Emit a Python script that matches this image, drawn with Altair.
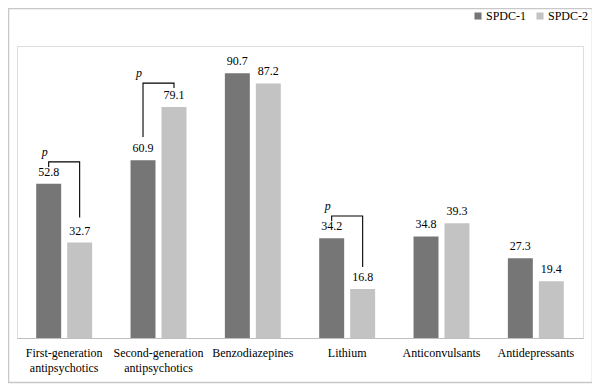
import altair as alt
import pandas as pd

categories = ["First-generation|antipsychotics", "Second-generation|antipsychotics",
              "Benzodiazepines", "Lithium", "Anticonvulsants", "Antidepressants"]
series = ["SPDC-1", "SPDC-2"]
spdc1 = [52.8, 60.9, 90.7, 34.2, 34.8, 27.3]
spdc2 = [32.7, 79.1, 87.2, 16.8, 39.3, 19.4]

# significance brackets: category, bracket top, end of leg under SPDC-1, end of leg under SPDC-2
br_cat = ["First-generation|antipsychotics", "Second-generation|antipsychotics", "Lithium"]
br_top = [60.3, 87.3, 41.8]
br_end1 = [58.6, 68.8, 40.0]
br_end2 = [41.3, 85.6, 24.3]

rows = []
for c, a, b in zip(categories, spdc1, spdc2):
    rows.append({"cat": c, "series": "SPDC-1", "value": a, "label": f"{a:.1f}"})
    rows.append({"cat": c, "series": "SPDC-2", "value": b, "label": f"{b:.1f}"})
df = pd.DataFrame(rows)

brow = []
for i, (c, t, e1, e2) in enumerate(zip(br_cat, br_top, br_end1, br_end2)):
    brow += [
        {"cat": c, "series": "SPDC-1", "y": e1, "o": 0, "id": i},
        {"cat": c, "series": "SPDC-1", "y": t, "o": 1, "id": i},
        {"cat": c, "series": "SPDC-2", "y": t, "o": 2, "id": i},
        {"cat": c, "series": "SPDC-2", "y": e2, "o": 3, "id": i},
    ]
bdf = pd.DataFrame(brow)
pdf = pd.DataFrame({"cat": br_cat, "series": ["SPDC-1"] * 3, "y": br_top, "t": ["p"] * 3})

FONT = "Liberation Serif, Times New Roman, serif"
xsc = alt.Scale(domain=categories, paddingInner=0.407, paddingOuter=0.2035)
osc = alt.Scale(domain=series, paddingInner=0.194, paddingOuter=0)
ysc = alt.Scale(domain=[0, 100], nice=False)
x = alt.X("cat:N", scale=xsc, sort=categories, title=None,
          axis=alt.Axis(labelExpr="split(datum.value, '|')", labelAngle=0, ticks=False,
                        domainColor="#bfbfbf", labelFont=FONT, labelFontSize=12,
                        labelColor="#000000", labelPadding=9, labelLineHeight=15))
xo = alt.XOffset("series:N", scale=osc, sort=series)
y = alt.Y("value:Q", scale=ysc, axis=None)

bars = alt.Chart(df).mark_bar().encode(
    x=x, xOffset=xo, y=y,
    color=alt.Color("series:N", scale=alt.Scale(domain=series, range=["#767676", "#c3c3c3"]),
                    legend=alt.Legend(title=None, orient="none", legendX=455, legendY=-36,
                                      direction="horizontal", symbolType="square", symbolSize=50,
                                      labelFont=FONT, labelFontSize=12, labelColor="#000000",
                                      columnPadding=7, labelOffset=2, symbolStrokeWidth=0)),
)
labels = alt.Chart(df).mark_text(baseline="bottom", dy=-5, font=FONT, fontSize=12, color="#000000").encode(
    x=x, xOffset=xo, y=y, text="label:N")
brackets = alt.Chart(bdf).mark_line(color="#000000", strokeWidth=1.1).encode(
    x=x, xOffset=xo, y=alt.Y("y:Q", scale=ysc, axis=None), order="o:Q", detail="id:N")
ps = alt.Chart(pdf).mark_text(font=FONT, fontSize=12, fontStyle="italic", color="#000000", dx=-4, dy=-10).encode(
    x=x, xOffset=xo, y=alt.Y("y:Q", scale=ysc, axis=None), text="t:N")
border = alt.Chart(pd.DataFrame({"a": [0]})).mark_rect(fill=None, stroke="#c8c8c8", strokeWidth=1.5).encode(
    x=alt.value(-8.5), x2=alt.value(575.5), y=alt.value(-37.5), y2=alt.value(336.5))

chart = alt.layer(bars, labels, brackets, ps, border).properties(
    width=566, height=292,
    autosize=alt.AutoSizeParams(type="none"),
    padding={"left": 9, "top": 38, "right": 9, "bottom": 46},
).configure_view(stroke=None).configure(background="#ffffff")

chart.save("out.html", embed_options={"renderer": "svg", "actions": False})
